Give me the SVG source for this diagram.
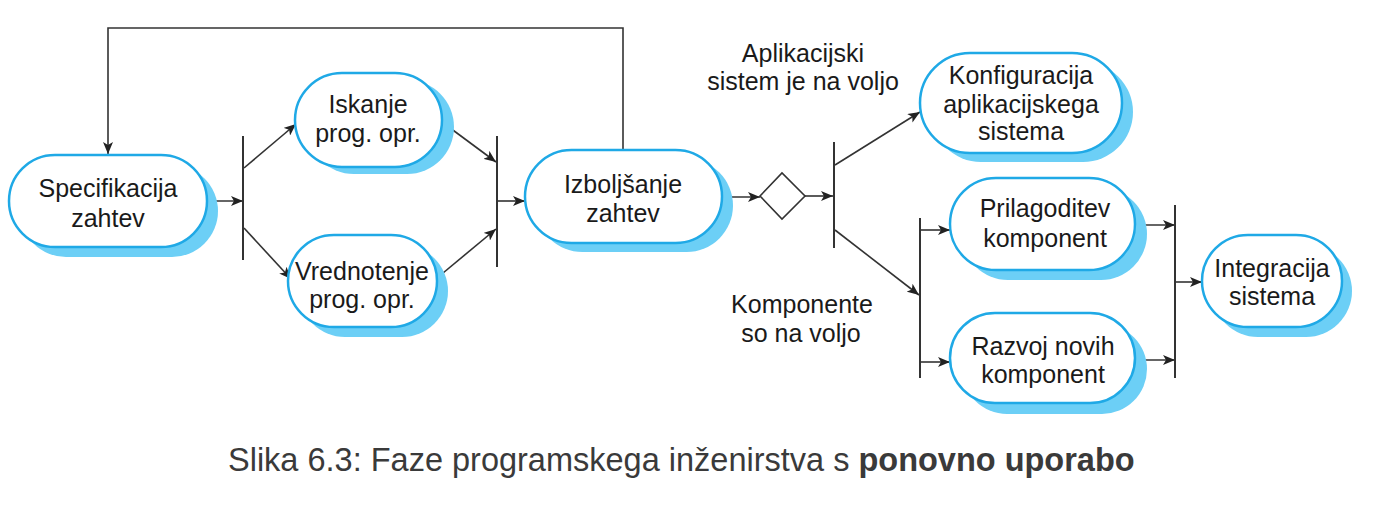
<svg xmlns="http://www.w3.org/2000/svg" width="1376" height="509" viewBox="0 0 1376 509">
<style>
.shadow{fill:#6ccff6;stroke:none}
.pill{fill:#ffffff;stroke:#1fa9e6;stroke-width:2.5}
.t{font-family:"Liberation Sans",Arial,sans-serif;font-size:25px;fill:#1a1a1a;text-anchor:middle}
.c{fill:none;stroke:#333333;stroke-width:1.6}
.bar{fill:none;stroke:#333333;stroke-width:2}
.cap{font-family:"Liberation Sans",Arial,sans-serif;font-size:32.5px;fill:#3a3a3a}
</style>
<defs>
<marker id="ah" viewBox="0 0 12 10" refX="12" refY="5" markerWidth="12" markerHeight="10" markerUnits="userSpaceOnUse" orient="auto">
<path d="M0,0 L12,5 L0,10 L3,5 Z" fill="#222222"/>
</marker>
</defs>
<rect width="1376" height="509" fill="#ffffff"/>

<g id="connectors">
<line class="c" x1="207" y1="201" x2="243" y2="201" marker-end="url(#ah)"/>
<line class="bar" x1="243" y1="136" x2="243" y2="260"/>
<line class="c" x1="244" y1="168" x2="296" y2="124" marker-end="url(#ah)"/>
<line class="c" x1="244" y1="228" x2="291" y2="279" marker-end="url(#ah)"/>
<line class="c" x1="442" y1="122" x2="496" y2="162" marker-end="url(#ah)"/>
<line class="c" x1="437" y1="278" x2="496" y2="229" marker-end="url(#ah)"/>
<line class="bar" x1="497" y1="136" x2="497" y2="267"/>
<line class="c" x1="497" y1="201" x2="525" y2="201" marker-end="url(#ah)"/>
<polyline class="c" points="623,150 623,28 108,28 108,154" marker-end="url(#ah)"/>
<line class="c" x1="722" y1="197" x2="760" y2="197" marker-end="url(#ah)"/>
<polygon points="760,196 782,173 805,196 782,219" fill="#ffffff" stroke="#333333" stroke-width="1.6"/>
<line class="c" x1="805" y1="196" x2="833" y2="196" marker-end="url(#ah)"/>
<line class="bar" x1="834" y1="142" x2="834" y2="248"/>
<line class="c" x1="835" y1="165" x2="920" y2="112" marker-end="url(#ah)"/>
<line class="c" x1="835" y1="230" x2="919" y2="295" marker-end="url(#ah)"/>
<line class="bar" x1="920" y1="218" x2="920" y2="378"/>
<line class="c" x1="920" y1="230" x2="950" y2="230" marker-end="url(#ah)"/>
<line class="c" x1="920" y1="362" x2="950" y2="362" marker-end="url(#ah)"/>
<line class="c" x1="1135" y1="225" x2="1175" y2="225" marker-end="url(#ah)"/>
<line class="c" x1="1135" y1="360" x2="1175" y2="360" marker-end="url(#ah)"/>
<line class="bar" x1="1175" y1="205" x2="1175" y2="378"/>
<line class="c" x1="1175" y1="282" x2="1202" y2="282" marker-end="url(#ah)"/>
</g>

<g id="specifikacija">
<rect class="shadow" x="20" y="165" width="198" height="92" rx="46"/>
<rect class="pill" x="9" y="155" width="198" height="92" rx="46"/>
<text class="t" x="108" y="197">Specifikacija</text>
<text class="t" x="108" y="227">zahtev</text>
</g>

<g id="iskanje">
<rect class="shadow" x="307" y="80" width="147" height="94" rx="47"/>
<rect class="pill" x="295" y="73" width="147" height="94" rx="47"/>
<text class="t" x="368" y="113">Iskanje</text>
<text class="t" x="368" y="142">prog. opr.</text>
</g>

<g id="vrednotenje">
<rect class="shadow" x="299" y="245" width="149" height="92" rx="46"/>
<rect class="pill" x="288" y="235" width="149" height="92" rx="46"/>
<text class="t" x="362" y="280">Vrednotenje</text>
<text class="t" x="362" y="308">prog. opr.</text>
</g>

<g id="izboljsanje">
<rect class="shadow" x="536" y="159" width="197" height="93" rx="46.5"/>
<rect class="pill" x="525" y="150" width="197" height="93" rx="46.5"/>
<text class="t" x="623" y="193">Izboljšanje</text>
<text class="t" x="623" y="222">zahtev</text>
</g>

<g id="konfiguracija">
<rect class="shadow" x="931" y="62" width="202" height="100" rx="50"/>
<rect class="pill" x="920" y="53" width="202" height="100" rx="50"/>
<text class="t" x="1021" y="84">Konfiguracija</text>
<text class="t" x="1021" y="113">aplikacijskega</text>
<text class="t" x="1021" y="140">sistema</text>
</g>

<g id="prilagoditev">
<rect class="shadow" x="962" y="188" width="185" height="92" rx="46"/>
<rect class="pill" x="950" y="178" width="185" height="92" rx="46"/>
<text class="t" x="1045" y="217">Prilagoditev</text>
<text class="t" x="1045" y="247">komponent</text>
</g>

<g id="razvoj">
<rect class="shadow" x="962" y="324" width="185" height="90" rx="45"/>
<rect class="pill" x="950" y="313" width="185" height="90" rx="45"/>
<text class="t" x="1043" y="355">Razvoj novih</text>
<text class="t" x="1043" y="383">komponent</text>
</g>

<g id="integracija">
<rect class="shadow" x="1212" y="245" width="140" height="92" rx="46"/>
<rect class="pill" x="1202" y="235" width="140" height="92" rx="46"/>
<text class="t" x="1272" y="277">Integracija</text>
<text class="t" x="1272" y="305">sistema</text>
</g>

<g id="labels">
<text class="t" x="803" y="62">Aplikacijski</text>
<text class="t" x="803" y="90">sistem je na voljo</text>
<text class="t" x="802" y="313">Komponente</text>
<text class="t" x="801" y="342">so na voljo</text>
</g>

<g id="caption">
<text class="cap" x="228" y="471">Slika 6.3: Faze programskega inženirstva s <tspan font-weight="bold">ponovno uporabo</tspan></text>
</g>
</svg>
